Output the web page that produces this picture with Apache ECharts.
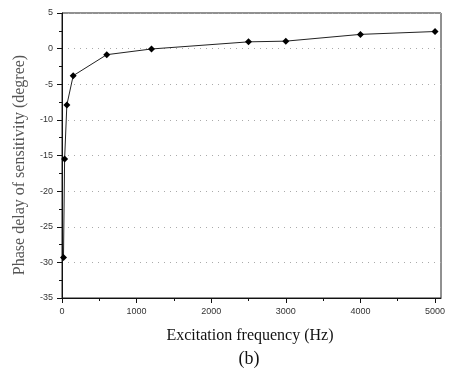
<!DOCTYPE html>
<html>
<head>
<meta charset="utf-8">
<script src="https://cdn.jsdelivr.net/npm/echarts@6/dist/echarts.min.js"></script>
<style>
  html, body {margin: 0; padding: 0; background: #fff;}
  #chart {width: 451px; height: 370px;}
</style>
</head>
<body>
<div id="chart"></div>
<script>
// excitation frequency (Hz) and phase delay (degree)
const freq = [20, 35, 65, 150, 600, 1200, 2500, 3000, 4000, 5000];
const phase = [-29.3, -15.5, -7.9, -3.8, -0.85, -0.05, 0.95, 1.05, 2.0, 2.4];

const xMajorTicks = [0, 1000, 2000, 3000, 4000, 5000];
const xMinorTicks = [500, 1500, 2500, 3500, 4500];
const xTitle = 'Excitation frequency (Hz)';
const yTitle = 'Phase delay of sensitivity (degree)';
const caption = '(b)';

const chart = echarts.init(document.getElementById('chart'), null, {renderer: 'canvas'});

const serif = '"Liberation Serif", "DejaVu Serif", serif';
const sans = '"Liberation Sans", Arial, sans-serif';

chart.setOption({
    animation: false,
    backgroundColor: '#fff',
    grid: {
        left: 62, top: 13, right: 10, bottom: 72,
        show: true, borderColor: '#222', borderWidth: 1,
        backgroundColor: 'transparent'
    },
    xAxis: [
        {
            type: 'value', min: 0, max: 5080, interval: 1000,
            axisLine: {show: true, onZero: false, lineStyle: {color: '#111', width: 1}},
            axisTick: {show: true, inside: false, length: 5, customValues: xMajorTicks, lineStyle: {color: '#111'}},
            axisLabel: {
                customValues: xMajorTicks, margin: 9,
                formatter: (v) => String(v),
                color: '#333', fontSize: 9, fontFamily: sans
            },
            splitLine: {show: false}
        },
        {
            // only carries the short half-way ticks
            type: 'value', min: 0, max: 5080, position: 'bottom',
            axisLine: {show: false, onZero: false},
            axisTick: {show: true, inside: false, length: 3, customValues: xMinorTicks, lineStyle: {color: '#111'}},
            axisLabel: {show: false},
            splitLine: {show: false}
        }
    ],
    yAxis: {
        type: 'value', min: -35, max: 5, interval: 5,
        axisLine: {show: true, onZero: false, lineStyle: {color: '#111', width: 1}},
        axisTick: {show: true, inside: false, length: 5, lineStyle: {color: '#111'}},
        minorTick: {show: true, splitNumber: 2, length: 3, lineStyle: {color: '#111'}},
        axisLabel: {margin: 9, color: '#333', fontSize: 9, fontFamily: sans},
        splitLine: {show: true, lineStyle: {color: '#aaa', width: 1, type: [1, 5]}}
    },
    graphic: [
        {
            type: 'text', x: 20, y: 165, rotation: Math.PI / 2,
            style: {
                text: yTitle, fill: '#555', font: '16px ' + serif,
                textAlign: 'center', textVerticalAlign: 'middle'
            }
        },
        {
            type: 'text', x: 250, y: 336,
            style: {
                text: xTitle, fill: '#111', font: '16px ' + serif,
                textAlign: 'center', textVerticalAlign: 'middle'
            }
        },
        {
            type: 'text', x: 249, y: 359,
            style: {
                text: caption, fill: '#111', font: '18px ' + serif,
                textAlign: 'center', textVerticalAlign: 'middle'
            }
        }
    ],
    series: [
        {
            type: 'line',
            xAxisIndex: 0,
            data: freq.map((f, i) => [f, phase[i]]),
            symbol: 'diamond',
            symbolSize: 7,
            itemStyle: {color: '#000'},
            lineStyle: {color: '#222', width: 1},
            z: 3
        }
    ]
});
</script>
</body>
</html>
